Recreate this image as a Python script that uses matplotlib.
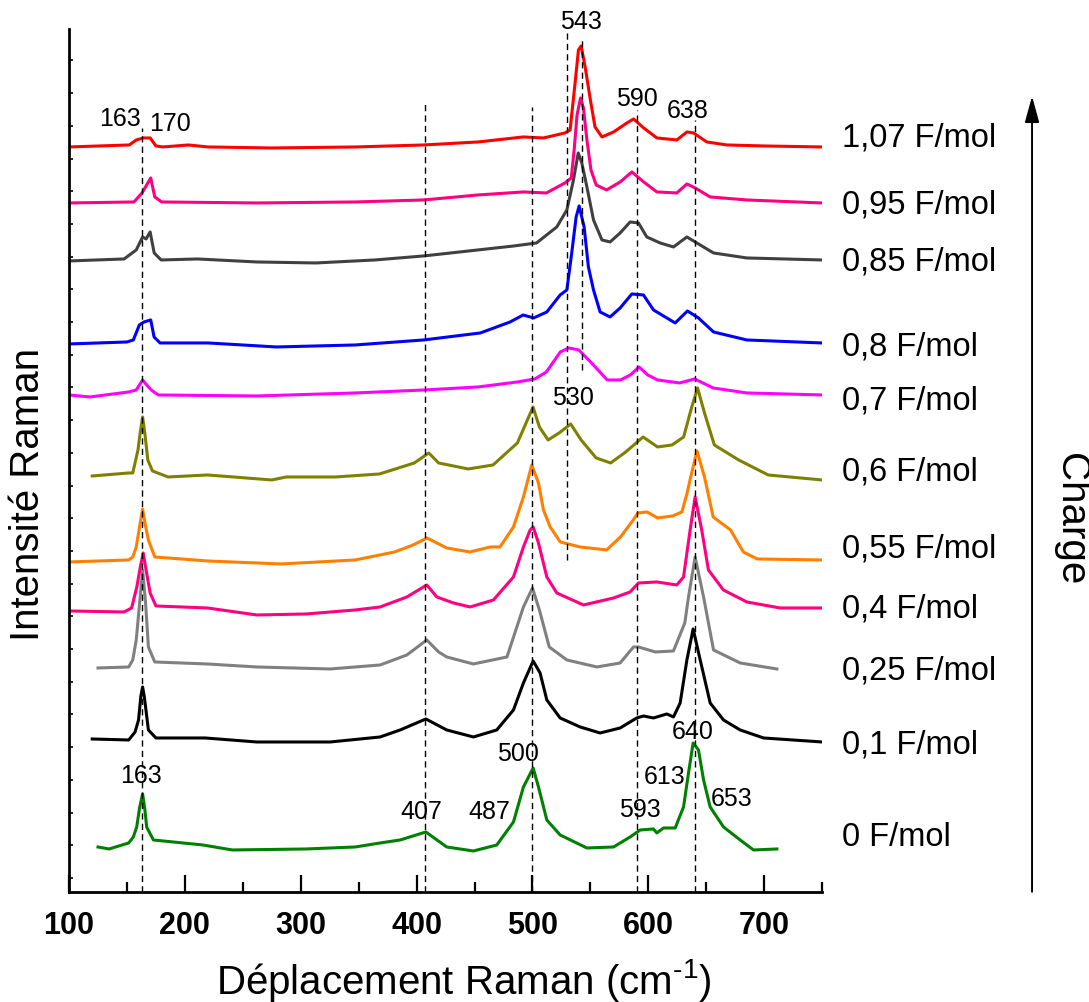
import matplotlib
matplotlib.use('Agg')
import matplotlib.pyplot as plt
from matplotlib.ticker import MultipleLocator
import numpy as np

plt.rcParams['font.family'] = ['Liberation Sans', 'DejaVu Sans']
plt.rcParams['mathtext.fontset'] = 'custom'
plt.rcParams['mathtext.rm'] = 'Liberation Sans'
plt.rcParams['mathtext.it'] = 'Liberation Sans:italic'

# Raman spectra, wavenumber (cm-1) / stacked intensity (a.u.)
wn_107 = [100, 152, 158, 164, 170, 175, 181, 203, 220, 275, 347, 406, 453, 492, 509.5, 528, 532.5, 536.8, 539.7, 542,
          545.5, 550, 554, 560, 570, 581.5, 587.3, 596, 607.4, 624.6, 633.3, 639, 650.5, 667.8, 700, 750]
int_107 = [745, 747, 752, 754, 754, 746, 745, 747, 745, 744, 745, 747, 750, 755, 754, 759, 762, 809, 842, 846,
           825, 792, 765, 755, 760, 769, 773, 764, 754, 752, 760, 759, 750, 747, 746, 745]

wn_095 = [100, 156, 163, 170.5, 174, 180, 262, 347, 406, 453, 492, 512, 528, 533.5, 536, 538.5, 541.5, 544, 547, 550.5,
          555, 564, 575.7, 585.8, 596, 607.4, 624.6, 633.3, 640.4, 653.4, 685, 750]
int_095 = [689, 690, 699, 714, 695, 690, 689, 690, 692, 697, 700, 699, 709, 714, 742, 777, 794, 784, 752, 722,
           707, 702, 710, 720, 710, 700, 699, 708, 704, 695, 692, 689]

wn_085 = [100, 147.5, 158, 163.5, 166.5, 170, 173.5, 179.5, 211, 262, 313, 364, 406, 484, 503.5, 521, 529.7, 535.4,
          539.5, 542.6, 547, 552.7, 560, 567, 575.7, 584.3, 591.5, 598.7, 610.2, 621.7, 633.3, 641.9, 656.3, 685, 750]
int_085 = [631, 633, 642, 655, 653, 660, 639, 632, 633, 630, 629, 632, 636, 646, 649, 665, 682, 712,
           739, 729, 705, 672, 652, 650, 659, 670, 669, 655, 649, 645, 655, 649, 639, 634, 632]

wn_08 = [100, 150, 155.5, 160.7, 164.7, 170.5, 173.4, 178.6, 220, 279, 347, 406, 455, 480.7, 492, 501, 512.4, 523.9,
         529.7, 533.9, 537.7, 540.3, 544.6, 548.3, 552.7, 558.4, 567, 575.7, 585.8, 595.8, 604.5, 616, 623.2, 633.8,
         643.3, 656.3, 685, 750]
int_08 = [548, 550, 552, 567, 570, 572, 555, 549, 549, 545, 547, 552, 559, 570, 577, 574, 580, 597,
          602, 639, 675, 686, 665, 625, 602, 580, 575, 584, 598, 597, 582, 574, 569, 581,
          574, 560, 552, 549]

wn_07 = [100, 118, 151.5, 158, 163.5, 167, 171, 177, 262, 347, 406.5, 453, 487, 502, 512, 518, 524, 531.5, 540, 548.5,
         555, 564.5, 576, 584.5, 592, 599.5, 608, 627, 640, 656, 685, 750]
int_07 = [497, 495, 500, 502, 512, 507, 502, 497, 496, 499, 502, 505, 510, 513, 520, 530, 540, 544, 542, 532,
          524, 512, 512, 517, 525, 517, 512, 509, 513, 504, 499, 497]

wn_06 = [120, 151.5, 155, 159.5, 161.5, 163.5, 165.5, 168, 172, 185.5, 219.5, 275, 287.5, 330, 368, 398, 410.5, 419,
         444.5, 466, 487, 500.5, 506, 513.5, 523, 533, 542, 555, 567.5, 580.5, 595.5, 608, 620.5, 630.5, 637.5, 642.5,
         648.5, 657, 678, 703.5, 750]
int_06 = [416, 419, 419, 442, 460, 475, 458, 432, 421, 415, 417, 412, 415, 415, 418, 429, 439, 429,
          423, 427, 449, 485, 465, 452, 459, 468, 452, 434, 429, 440, 455, 445, 447, 455, 485, 504,
          479, 447, 432, 417, 412]

wn_055 = [100, 151.5, 155, 158, 161, 163.5, 166, 168.5, 174, 219.5, 283, 347, 381, 397, 409, 426, 446, 463.5, 472,
          483.6, 492.2, 499.4, 505.2, 509.5, 515.3, 524, 541, 564, 576, 587, 591, 599, 608, 621, 629, 633.5, 636, 642,
          648.5, 656, 671, 682, 694, 750]
int_055 = [330, 332, 335, 345, 366, 383, 366, 352, 335, 331, 328, 332, 340, 347, 354, 344, 340, 345, 345,
           365, 395, 427, 409, 382, 365, 350, 345, 342, 355, 372, 379, 380, 374, 376, 380, 399, 412, 441,
           415, 375, 362, 340, 333, 332]

wn_04 = [100, 147.5, 154, 158.5, 161.5, 164, 166.5, 170, 175, 219.5, 262, 304.5, 347, 368.5, 391.6, 408.8, 417.4,
         431.8, 446.2, 466.3, 483.6, 492.2, 498, 500.6, 505.2, 512.4, 521, 544, 570, 584.3, 591.5, 607.4, 624.6, 630.4,
         636.1, 640.4, 646.1, 651.9, 664.8, 685, 713.8, 750]
int_04 = [281, 280, 284, 305, 325, 339, 322, 299, 286, 284, 277, 278, 282, 285, 295, 307, 295,
          289, 285, 292, 315, 345, 362, 365, 349, 315, 299, 287, 294, 300, 309, 310, 307, 315,
          362, 395, 362, 322, 302, 290, 284, 284]

wn_025 = [125, 151.5, 155, 158, 161, 163.5, 166, 168.5, 174, 219.5, 262, 325.5, 368.5, 391.6, 408.8, 419, 426, 449,
          478, 492.2, 500, 506, 514.5, 529.7, 555.6, 575.7, 587.2, 591.5, 606, 621.7, 631.5, 634.7, 640.4, 647.7,
          656.3, 679.3, 711]
int_025 = [224, 225, 232, 252, 290, 322, 290, 245, 230, 228, 225, 223, 227, 237, 252, 240, 235, 228,
           235, 285, 304, 282, 245, 232, 225, 229, 245, 245, 240, 241, 269, 295, 335, 295,
           242, 229, 223]

wn_01 = [120, 151.5, 157, 160, 162, 163.5, 165, 168.5, 175, 217.5, 262, 325.5, 368.5, 385.8, 408, 426, 449, 469.2,
         483.6, 492.2, 500.6, 506.6, 512.4, 523.9, 541.2, 558.4, 575.7, 590, 595.8, 604.4, 616, 621.7, 627.5, 633.3,
         638.7, 644.8, 653.4, 664.9, 679.3, 699.5, 750]
int_01 = [153, 152, 160, 172, 196, 205, 195, 162, 154, 154, 150, 150, 155, 162, 173, 162, 155, 162,
          182, 209, 231, 219, 192, 174, 165, 159, 164, 174, 176, 174, 178, 175, 189, 232,
          263, 232, 189, 172, 162, 154, 150]

wn_0 = [125, 134.5, 151.5, 155.5, 158.4, 161, 163.5, 165.5, 167, 172.8, 215.5, 241, 304.5, 347, 368.5, 385.8, 408,
        426, 449, 469.2, 483.6, 492.2, 500.6, 505.2, 512.4, 523.9, 547, 570, 584.3, 593, 604.4, 607.4, 613.1, 623.2,
        630.4, 634.7, 638.7, 643.3, 647.7, 653.4, 664.9, 679.3, 690.8, 711]
int_0 = [45, 43, 49, 55, 65, 85, 98, 82, 65, 52, 47, 42, 43, 45, 49, 52, 60,
         45, 41, 47, 70, 105, 124, 105, 72, 57, 44, 45, 55, 62, 63, 59, 64, 64,
         85, 119, 149, 142, 112, 85, 65, 52, 42, 43]

labels = ['0 F/mol', '0,1 F/mol', '0,25 F/mol', '0,4 F/mol', '0,55 F/mol', '0,6 F/mol',
          '0,7 F/mol', '0,8 F/mol', '0,85 F/mol', '0,95 F/mol', '1,07 F/mol']
label_y = [54, 147, 221, 283, 343, 420, 491, 545, 630, 687, 754]
colours = ['#008000', 'black', '#808080', '#ff0080', '#ff8000', '#808000',
           '#ff00ff', '#0000ff', '#404040', '#ff0080', '#ff0000']
spectra = [(wn_0, int_0), (wn_01, int_01), (wn_025, int_025), (wn_04, int_04), (wn_055, int_055),
           (wn_06, int_06), (wn_07, int_07), (wn_08, int_08), (wn_085, int_085), (wn_095, int_095),
           (wn_107, int_107)]

# guide lines: position, bottom, top
guide_x = [163, 407, 500, 530, 543, 590, 640]
guide_lo = [0, 0, 0, 332, 522, 0, 0]
guide_hi = [764, 789, 785, 859, 854, 782, 772]

# peak annotations
peak_text = ['163', '170', '543', '590', '638', '530', '163', '407', '487', '500', '593', '613', '640', '653']
peak_x = [144, 187.2, 542, 590.4, 634.4, 535.1, 162.2, 403.9, 462.6, 487.6, 593, 613.8, 638.7, 671.5]
peak_y = [773, 768, 870, 793, 781, 494, 116, 80, 80, 138, 82, 115, 160, 93]

fig = plt.figure(figsize=(10.89, 10.02), dpi=100)
ax = fig.add_axes([0.0634, 0.1098, 0.6915, 0.8613])

for (x, y), c in zip(spectra, colours):
    ax.plot(x, y, color=c, lw=2.2, solid_joinstyle='round')

for x, lo, hi in zip(guide_x, guide_lo, guide_hi):
    ax.plot([x, x], [lo, hi], color='black', lw=1.0, linestyle=(0, (4.5, 3)), zorder=5)

for t, x, y in zip(peak_text, peak_x, peak_y):
    ax.text(x, y, t, fontsize=18, ha='center', va='center', zorder=6)

for t, y in zip(labels, label_y):
    ax.text(767.4, y, t, fontsize=23.5, ha='left', va='center', clip_on=False)

ax.set_xlim(100, 750)
ax.set_ylim(0, 863)
ax.spines['top'].set_visible(False)
ax.spines['right'].set_visible(False)
ax.spines['left'].set_linewidth(2)
ax.spines['bottom'].set_linewidth(2)

ax.xaxis.set_minor_locator(MultipleLocator(50))
ax.tick_params(axis='x', which='major', direction='in', length=12, width=1.6, pad=14, labelsize=22)
ax.tick_params(axis='x', which='minor', direction='in', length=7, width=1.6)
ax.set_xticks(range(100, 701, 100))
ax.set_xticklabels([str(v) for v in range(100, 701, 100)], fontweight='bold')

ax.set_yticks(np.arange(14, 863, 32.7))
ax.set_yticklabels([])
ax.tick_params(axis='y', direction='in', length=3, width=1.2)

fig.text(0.426, 0.008, 'Déplacement Raman (cm$^{\\text{-1}}$)', fontsize=29, ha='center', va='baseline')
fig.text(0.026, 0.507, 'Intensité Raman', fontsize=29, rotation=90, ha='center', va='center')
fig.text(0.9835, 0.482, 'Charge', fontsize=29, rotation=270, ha='center', va='center')

ax.annotate('', xy=(0.9477, 0.904), xytext=(0.9477, 0.110), xycoords='figure fraction',
            arrowprops=dict(arrowstyle='-|>,head_length=0.8,head_width=0.22', color='black',
                            lw=1.4, mutation_scale=20, shrinkA=0, shrinkB=0))

fig.savefig('out.png', dpi=100)
